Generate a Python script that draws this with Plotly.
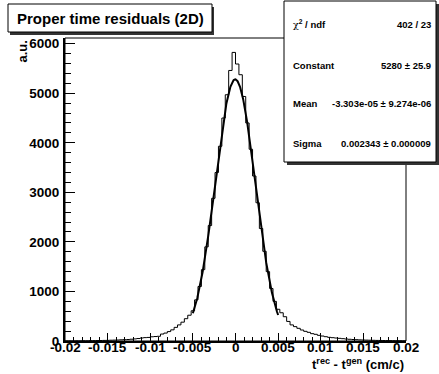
import plotly.graph_objects as go
import numpy as np

# ---- data ----
bin_lo = -0.02
bin_width = 0.0004
counts = [
    3, 4, 3, 5, 4, 6, 5, 7, 8, 9,
    10, 12, 13, 16, 18, 20, 24, 27, 30, 36,
    42, 50, 60, 68, 72, 85, 90, 95, 140, 160,
    190, 225, 275, 325, 380, 450, 520, 610, 830, 1100,
    1440, 1900, 2330, 2880, 3400, 3930, 4500, 4970, 5460, 5824,
    5590, 5374, 4935, 4400, 3870, 3330, 2790, 2270, 1810, 1400,
    1060, 800, 640, 570, 490, 395, 325, 290, 256, 222,
    195, 175, 148, 135, 114, 100, 87, 74, 67, 60,
    54, 47, 40, 35, 30, 27, 23, 20, 18, 16,
    14, 12, 11, 10, 9, 8, 7, 6, 6, 5,
]
fit_constant = 5280
fit_mean = -3.303e-05
fit_sigma = 0.002343
fit_range = [-0.005, 0.005]

x_tickvals = [-0.02, -0.015, -0.01, -0.005, 0, 0.005, 0.01, 0.015, 0.02]
x_ticktext = ["-0.02", "-0.015", "-0.01", "-0.005", "0", "0.005", "0.01", "0.015", "0.02"]
y_tickvals = [0, 1000, 2000, 3000, 4000, 5000, 6000]
y_ticktext = ["0", "1000", "2000", "3000", "4000", "5000", "6000"]

title_text = "Proper time residuals (2D)"
stat_labels = ['<span style="font-family:DejaVu Serif;font-weight:normal">χ</span><sup>2</sup> / ndf',
               "Constant", "Mean", "Sigma"]
stat_values = ["402 / 23", "5280 ± 25.9", "-3.303e-05 ± 9.274e-06", "0.002343 ± 0.000009"]

# ---- figure ----
W, H = 439, 374
L, R, T, B = 65, 406, 38, 341
ymax = 6115
FONT = "Liberation Sans, Arial, sans-serif"

def px(x):
    return (x - L) / (R - L)

def py(y):
    return (B - y) / (B - T)

n = len(counts)
edges = bin_lo + bin_width * np.arange(n + 1)
hx = list(edges)
hy = list(counts) + [counts[-1]]

xf = np.linspace(fit_range[0], fit_range[1], 300)
yf = fit_constant * np.exp(-0.5 * ((xf - fit_mean) / fit_sigma) ** 2)

fig = go.Figure()
fig.add_trace(go.Scatter(x=hx, y=hy, mode="lines", line=dict(shape="hv", color="black", width=1),
                         showlegend=False, hoverinfo="skip"))
fig.add_trace(go.Scatter(x=xf, y=yf, mode="lines", line=dict(color="black", width=2),
                         showlegend=False, hoverinfo="skip"))

tickfont = dict(family=FONT, size=13.5, color="black")

fig.update_layout(
    width=W, height=H,
    margin=dict(l=L, r=W - R, t=T, b=H - B, pad=0),
    paper_bgcolor="white", plot_bgcolor="white",
    showlegend=False,
    xaxis=dict(range=[-0.02, 0.02], tickmode="array", tickvals=x_tickvals, showticklabels=False,
               ticks="inside", ticklen=8, tickwidth=1, tickcolor="black",
               minor=dict(ticks="inside", ticklen=4, tickwidth=1, tickcolor="black", dtick=0.001, tick0=-0.02, showgrid=False),
               showline=True, linecolor="black", linewidth=2, mirror=False,
               showgrid=False, zeroline=False),
    yaxis=dict(range=[0, ymax], tickmode="array", tickvals=y_tickvals,
               ticktext=["<b>" + t + "</b>" for t in y_ticktext],
               ticks="inside", ticklen=10, tickwidth=1, tickcolor="black",
               minor=dict(ticks="inside", ticklen=6, tickwidth=1, tickcolor="black", dtick=200, tick0=0, showgrid=False),
               showline=True, linecolor="black", linewidth=2, mirror=False,
               showgrid=False, zeroline=False, tickfont=tickfont, ticklabelstandoff=1),
)

shapes = []
shapes.append(dict(type="rect", xref="paper", yref="paper", x0=0, x1=1, y0=0, y1=1,
                   line=dict(color="black", width=1), layer="above"))
shapes.append(dict(type="rect", xref="paper", yref="paper", x0=px(10), x1=px(214), y0=py(35), y1=py(7),
                   line=dict(width=0), fillcolor="#333333", layer="above"))
shapes.append(dict(type="rect", xref="paper", yref="paper", x0=px(8), x1=px(212), y0=py(32), y1=py(4),
                   line=dict(color="black", width=1), fillcolor="white", layer="above"))
shapes.append(dict(type="rect", xref="paper", yref="paper", x0=px(287), x1=px(439), y0=py(165), y1=py(4),
                   line=dict(width=0), fillcolor="#333333", layer="above"))
shapes.append(dict(type="rect", xref="paper", yref="paper", x0=px(284), x1=px(436), y0=py(162), y1=py(1),
                   line=dict(color="black", width=1), fillcolor="white", layer="above"))
fig.update_layout(shapes=shapes)

ann = []
# x tick labels placed just under the axis
for v, t in zip(x_tickvals, x_ticktext):
    ann.append(dict(text="<b>" + t + "</b>", xref="x", yref="paper", x=v, y=py(347.5),
                    xanchor="center", yanchor="middle", showarrow=False,
                    font=dict(family=FONT, size=13.5, color="black")))
ann.append(dict(text="<b>" + title_text + "</b>", xref="paper", yref="paper", x=px(110), y=py(18.5),
                xanchor="center", yanchor="middle", showarrow=False,
                font=dict(family=FONT, size=15, color="black")))
rows_y = [24.5, 65.5, 104, 143]
for lab, val, yy in zip(stat_labels, stat_values, rows_y):
    ann.append(dict(text="<b>" + lab + "</b>", xref="paper", yref="paper", x=px(291), y=py(yy), xanchor="left", yanchor="middle",
                    showarrow=False, font=dict(family=FONT, size=9.5, color="black")))
    ann.append(dict(text="<b>" + val + "</b>", xref="paper", yref="paper", x=px(433), y=py(yy), xanchor="right", yanchor="middle",
                    showarrow=False, font=dict(family=FONT, size=9.5, color="black")))
ann.append(dict(text="<b>t<sup>rec</sup> - t<sup>gen</sup> (cm/c)</b>", xref="paper", yref="paper", x=1.0, y=py(364),
                xanchor="right", yanchor="middle", showarrow=False,
                font=dict(family=FONT, size=13, color="black")))
ann.append(dict(text="<b>a.u.</b>", xref="paper", yref="paper", x=px(21.5), y=py(52), textangle=-90,
                xanchor="center", yanchor="middle", showarrow=False,
                font=dict(family=FONT, size=13, color="black")))
fig.update_layout(annotations=ann)

fig.write_html("out.html")
